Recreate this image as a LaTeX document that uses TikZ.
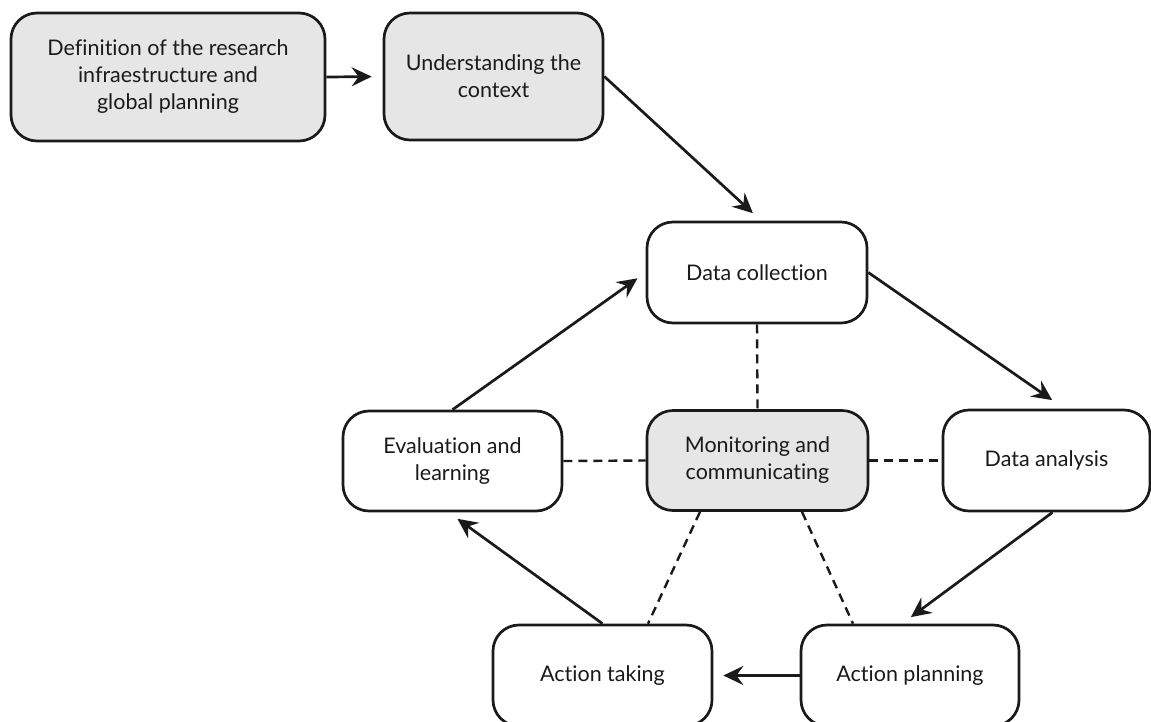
\documentclass[tikz,border=0pt]{standalone}
\usepackage{fontspec}
\setmainfont{Lato}[RawFeature={-liga,-dlig,-clig}]
\usetikzlibrary{arrows.meta}
\definecolor{boxgray}{HTML}{E6E6E6}
\definecolor{ink}{HTML}{1A1A1A}
\tikzset{
  box/.style={draw=ink, line width=2.7pt, rounded corners=26pt, fill=white,
    inner sep=0pt, align=center, font=\fontsize{21.5}{27}\selectfont, text=ink},
  graybox/.style={box, fill=boxgray},
  flow/.style={draw=ink, line width=2.7pt,
    -{Stealth[length=20pt, width=19pt, inset=7pt]}},
  link/.style={draw=ink, line width=2.4pt, dash pattern=on 9pt off 6pt}
}
\begin{document}
\begin{tikzpicture}[x=1pt,y=-1pt]
\useasboundingbox (0,0) rectangle (1151,721);
\clip (0,0) rectangle (1151,721);
\node[graybox, minimum width=314pt, minimum height=128pt] (def) at (168,77)
  {Definition of the research\\infraestructure and\\global planning};
\node[graybox, minimum width=219pt, minimum height=127pt] (und) at (493.5,76.5)
  {Understanding the\\context};
\node[box, minimum width=220pt, minimum height=101pt] (dc) at (757,272.5)
  {Data collection};
\node[box, minimum width=207pt, minimum height=101pt] (da) at (1046.5,460.5)
  {Data analysis};
\node[graybox, minimum width=221pt, minimum height=100pt] (mon) at (757.5,460.5)
  {Monitoring and\\communicating};
\node[box, minimum width=219pt, minimum height=100pt] (ev) at (452.5,461)
  {Evaluation and\\learning};
\node[box, minimum width=219pt, minimum height=101pt] (at) at (602.5,675.5)
  {Action taking};
\node[box, minimum width=218pt, minimum height=101pt] (ap) at (910,675.5)
  {Action planning};

\draw[flow, shorten >=11pt] (def.east) -- (und.west);
\draw[flow, shorten >=11pt] (und.east) -- ([xshift=4pt]dc.north);
\draw[flow, shorten >=15pt] (dc.east) -- ([xshift=18pt]da.north);
\draw[flow, shorten >=11pt] ([xshift=6pt]da.south) -- ([xshift=-8pt]ap.north);
\draw[flow, shorten >=10pt] (ap.west) -- (at.east);
\draw[flow, shorten >=11pt] (at.north) -- ([xshift=-4pt]ev.south);
\draw[flow, shorten >=10pt] (ev.north) -- (dc.west);

\draw[link] (dc.south) -- (mon.north);
\draw[link] (ev.east) -- (mon.west);
\draw[link] (mon.east) -- (da.west);
\draw[link] ([xshift=-57.5pt]mon.south) -- ([xshift=45.5pt]at.north);
\draw[link] ([xshift=44.5pt]mon.south) -- ([xshift=-57pt]ap.north);
\end{tikzpicture}
\end{document}
